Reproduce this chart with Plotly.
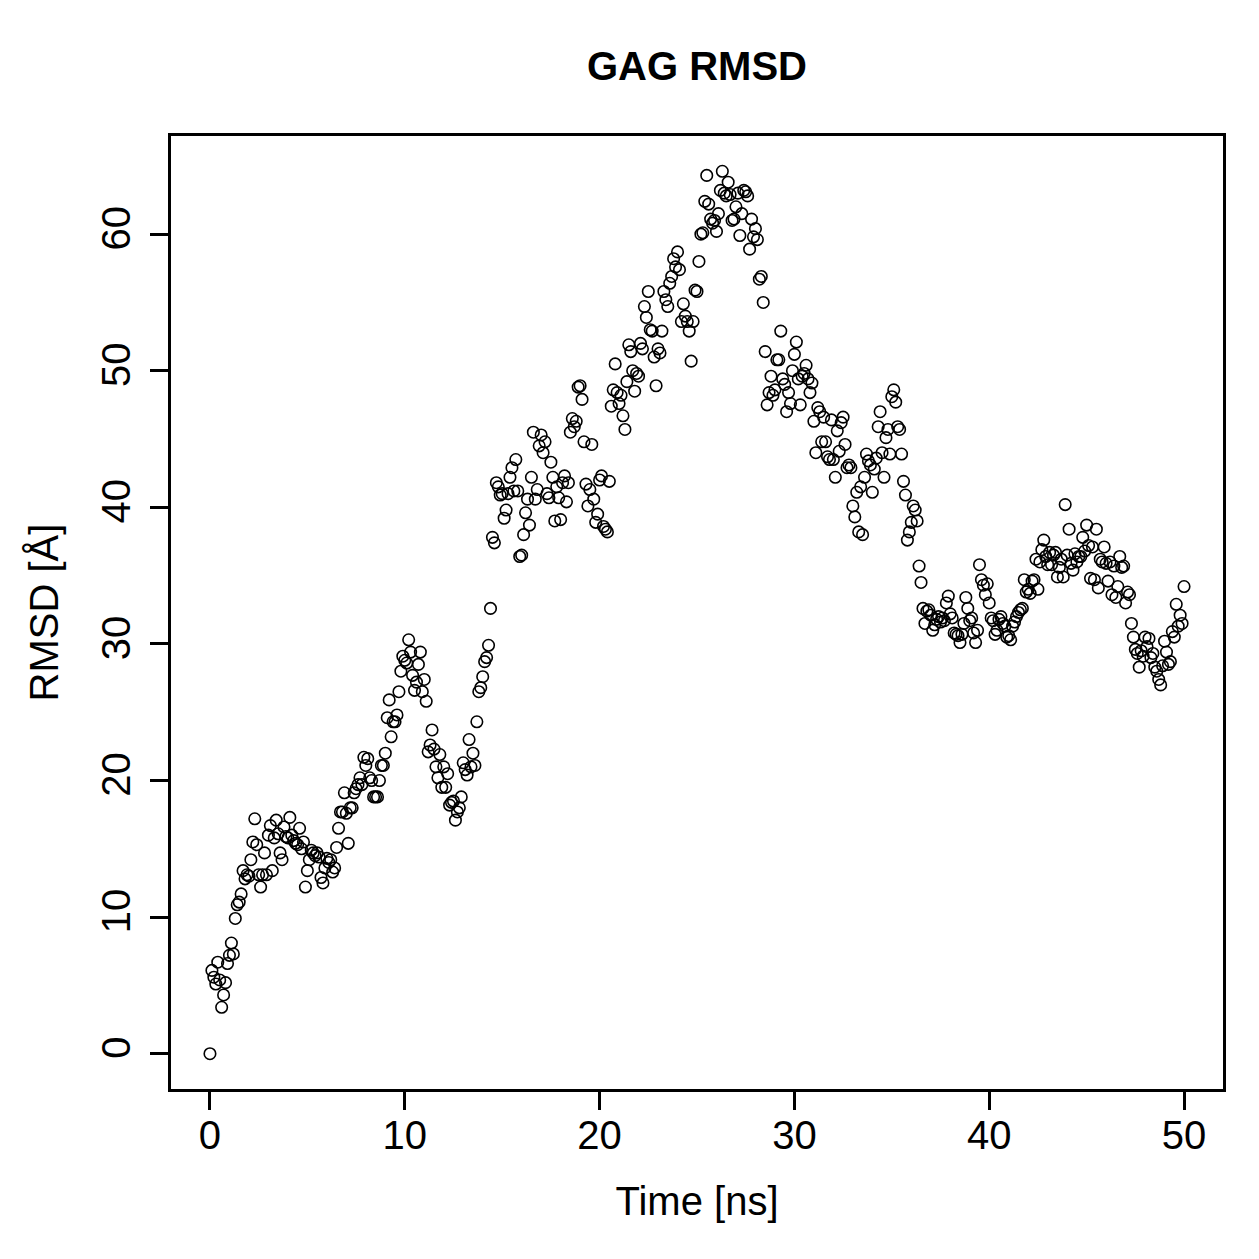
import plotly.graph_objects as go

# ---- data (RMSD in Å, sampled every 0.1 ns from 0 to 50 ns) ----
time_step_ns = 0.1

rmsd_0_10 = [
    0.0, 6.1, 5.6, 5.1, 6.7, 5.4, 3.4, 4.3, 5.2, 6.6,
    7.2, 8.1, 7.3, 9.9, 10.9, 11.1, 11.7, 13.4, 12.8, 13.1,
    13.0, 14.2, 15.5, 17.2, 15.3, 13.1, 12.2, 13.1, 14.7, 13.1,
    16.0, 16.7, 13.4, 15.8, 17.1, 16.1, 14.7, 14.2, 16.6, 15.9,
    15.8, 17.3, 16.0, 15.6, 15.4, 15.3, 16.5, 15.0, 15.5, 12.2,
    13.4, 14.2, 14.9, 14.7, 14.5, 14.7, 14.4, 12.9, 12.5, 13.6,
    14.3, 14.0, 14.2, 13.3, 13.6, 15.1, 16.5, 17.7, 17.7, 19.1,
    17.6, 15.4, 18.0, 18.0, 19.1, 19.4, 19.7, 20.2, 19.7, 21.7,
    21.1, 21.6, 20.2, 20.0, 18.8, 18.8, 18.8, 20.0, 21.1, 21.1,
    22.0, 24.6, 25.9, 23.2, 24.3, 24.3, 24.8, 26.5, 28.0, 29.1,
]
rmsd_10_20 = [
    28.8, 28.6, 30.3, 29.4, 27.7, 26.6, 27.2, 28.5, 29.4, 26.5,
    27.4, 25.8, 22.1, 22.6, 23.7, 22.3, 21.0, 20.2, 21.9, 19.5,
    21.0, 19.5, 20.5, 18.2, 18.4, 18.5, 17.1, 17.7, 18.0, 18.8,
    21.3, 20.8, 20.4, 23.0, 21.0, 22.0, 21.1, 24.3, 26.5, 26.8,
    27.6, 28.7, 29.0, 29.9, 32.6, 37.8, 37.4, 41.8, 41.5, 40.9,
    41.0, 39.2, 39.8, 41.0, 42.2, 42.9, 41.2, 43.5, 41.2, 36.4,
    36.5, 38.0, 39.6, 40.6, 38.7, 42.2, 45.5, 40.6, 41.3, 44.5,
    45.3, 44.0, 44.8, 41.0, 40.7, 43.3, 42.2, 39.0, 41.5, 40.7,
    39.1, 41.8, 42.3, 40.4, 41.8, 45.5, 46.5, 45.9, 46.3, 48.8,
    48.9, 47.9, 44.8, 41.7, 40.1, 41.3, 44.6, 40.6, 38.9, 39.5,
]
rmsd_20_30 = [
    42.0, 42.3, 38.6, 38.4, 38.2, 41.9, 47.4, 48.6, 50.5, 48.4,
    47.6, 48.2, 46.7, 45.7, 49.2, 51.9, 51.4, 50.0, 48.5, 49.8,
    49.6, 52.0, 51.6, 54.7, 53.9, 55.8, 53.0, 52.9, 51.0, 48.9,
    51.6, 51.3, 52.9, 55.8, 55.2, 54.7, 56.4, 56.9, 58.2, 57.6,
    58.7, 57.4, 53.6, 54.9, 54.0, 53.6, 52.9, 50.7, 53.6, 55.9,
    55.8, 58.0, 60.0, 60.1, 62.4, 64.3, 62.2, 61.1, 60.8, 61.0,
    60.2, 61.5, 63.2, 64.6, 63.0, 62.8, 63.8, 62.9, 61.0, 61.1,
    62.0, 63.0, 59.9, 61.5, 63.2, 63.1, 62.8, 58.9, 61.1, 59.8,
    60.4, 59.6, 56.7, 56.9, 55.0, 51.4, 47.5, 48.4, 49.6, 48.2,
    48.6, 50.8, 50.8, 52.9, 49.4, 49.0, 47.0, 48.4, 47.6, 50.0,
]
rmsd_30_40 = [
    51.2, 52.1, 49.4, 47.5, 49.6, 49.8, 50.4, 49.4, 48.4, 49.1,
    46.3, 44.0, 47.3, 47.0, 44.8, 46.6, 44.8, 43.7, 43.5, 46.4,
    43.5, 42.2, 45.6, 44.1, 46.2, 46.6, 44.6, 42.9, 43.1, 42.9,
    40.1, 39.3, 41.1, 38.2, 41.5, 38.0, 42.2, 43.9, 43.4, 43.1,
    41.1, 42.8, 43.6, 45.9, 47.0, 44.0, 42.2, 45.1, 45.7, 43.9,
    48.1, 48.6, 47.7, 45.9, 45.7, 43.9, 41.9, 40.9, 37.6, 38.2,
    38.9, 40.1, 39.8, 39.0, 35.7, 34.5, 32.6, 31.5, 32.4, 32.5,
    32.1, 31.0, 31.4, 31.8, 32.0, 31.6, 31.9, 31.7, 33.0, 33.5,
    32.2, 31.9, 30.8, 30.7, 30.6, 30.1, 30.7, 31.5, 33.4, 32.6,
    31.7, 31.9, 30.8, 30.1, 31.0, 35.8, 34.7, 34.3, 33.6, 34.4,
]
rmsd_40_50 = [
    33.0, 31.9, 31.7, 30.7, 31.0, 31.8, 32.0, 31.5, 31.3, 30.5,
    30.6, 30.3, 31.3, 31.6, 32.0, 32.3, 32.5, 32.6, 34.7, 33.8,
    34.0, 33.7, 34.6, 34.7, 36.2, 34.0, 36.0, 36.9, 37.6, 36.4,
    35.8, 36.7, 35.8, 36.5, 36.7, 34.9, 35.6, 36.2, 34.9, 40.2,
    36.5, 38.4, 35.9, 35.4, 36.6, 36.0, 36.4, 36.4, 37.8, 36.8,
    38.7, 37.2, 34.8, 37.1, 34.7, 38.4, 34.1, 36.2, 36.0, 37.1,
    35.9, 34.6, 36.0, 33.6, 35.7, 33.4, 34.2, 36.4, 35.6, 35.7,
    33.0, 33.8, 33.6, 31.5, 30.5, 29.6, 29.3, 28.3, 29.5, 29.1,
    30.5, 29.8, 30.4, 29.0, 29.3, 28.3, 28.0, 27.4, 27.0, 28.4,
    30.2, 29.4, 28.5, 28.7, 30.9, 30.5, 32.9, 31.3, 32.1, 31.5,
    34.2,
]

x_ticks = [0, 10, 20, 30, 40, 50]
y_ticks = [0, 10, 20, 30, 40, 50, 60]

rmsd = rmsd_0_10 + rmsd_10_20 + rmsd_20_30 + rmsd_30_40 + rmsd_40_50
time_ns = [round(i * time_step_ns, 1) for i in range(len(rmsd))]


def r_range(values):
    lo, hi = min(values), max(values)
    pad = 0.04 * (hi - lo)
    return [lo - pad, hi + pad]


FONT = "Liberation Sans, Arial, Helvetica, sans-serif"

fig = go.Figure(
    go.Scatter(
        x=time_ns,
        y=rmsd,
        mode="markers",
        marker=dict(symbol="circle-open", size=11.5, color="black",
                    line=dict(width=1.6, color="black")),
        hoverinfo="x+y",
    )
)

axis_common = dict(
    showgrid=False,
    zeroline=False,
    showline=True,
    linecolor="black",
    linewidth=2.5,
    mirror=True,
    ticks="outside",
    ticklen=18,
    tickwidth=2.5,
    tickcolor="black",
    tickfont=dict(family=FONT, size=40, color="black"),
)

fig.update_layout(
    width=1259,
    height=1259,
    margin=dict(l=171, r=36, t=136, b=170),
    paper_bgcolor="white",
    plot_bgcolor="white",
    showlegend=False,
    font=dict(family=FONT, color="black"),
    title=dict(
        text="<b>GAG RMSD</b>",
        font=dict(family=FONT, size=40, color="black"),
        x=0.5,
        xref="paper",
        xanchor="center",
        y=1 - 66 / 1259,
        yref="container",
        yanchor="middle",
    ),
    xaxis=dict(
        range=r_range(time_ns),
        tickmode="array",
        tickvals=x_ticks,
        ticktext=[str(t) for t in x_ticks],
        ticklabelstandoff=-9,
        title=dict(text="Time [ns]", font=dict(family=FONT, size=40), standoff=32),
        **axis_common,
    ),
    yaxis=dict(
        range=r_range(rmsd),
        tickmode="array",
        tickvals=y_ticks,
        ticktext=[str(t) for t in y_ticks],
        tickangle=-90,
        ticklabelstandoff=4,
        title=dict(text="RMSD [Å]", font=dict(family=FONT, size=40), standoff=24),
        **axis_common,
    ),
)

fig.write_html("out.html")
